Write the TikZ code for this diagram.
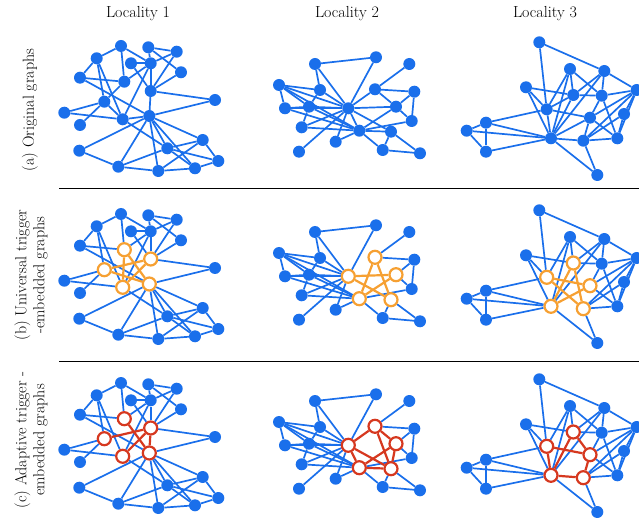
\documentclass[tikz,border=0pt]{standalone}
\usepackage{amsmath}
\usetikzlibrary{positioning}

\definecolor{nodeblue}{RGB}{26,111,235}
\definecolor{trigorange}{RGB}{246,160,50}
\definecolor{trigred}{RGB}{214,56,31}

\pgfdeclarelayer{background}
\pgfdeclarelayer{mid}
\pgfsetlayers{background,mid,main}

\tikzset{
  vtx/.style={circle, fill=nodeblue, inner sep=0pt, minimum size=12pt},
  trig/.style={vtx},
  link/.style={draw=nodeblue, line width=1.7pt},
  tlink/.style={link},
  orangetrig/.style={trig/.style={circle, draw=trigorange, fill=white, line width=2.2pt, inner sep=0pt, minimum size=13pt},
    tlink/.style={draw=trigorange, line width=2.2pt}},
  redtrig/.style={trig/.style={circle, draw=trigred, fill=white, line width=2.2pt, inner sep=0pt, minimum size=13pt},
    tlink/.style={draw=trigred, line width=2.2pt}},
  lbl/.style={font=\fontsize{16}{18}\selectfont, align=center},
}

% locality 1, #1 = edges between trigger nodes
\newcommand\locone[1]{%
  \node[vtx] (A) at (121,46) {};
  \node[vtx] (B) at (148.3,47.3) {};
  \node[vtx] (C) at (176.7,51.7) {};
  \node[vtx] (D) at (96.7,58.3) {};
  \node[vtx] (E) at (131,63.3) {};
  \node[vtx] (F) at (150.7,63.3) {};
  \node[vtx] (G) at (181,72.3) {};
  \node[vtx] (H) at (80,77.7) {};
  \node[trig] (I) at (124.3,81.7) {};
  \node[trig] (J) at (150.7,91) {};
  \node[vtx] (K) at (215,100) {};
  \node[trig] (L) at (104.3,101.7) {};
  \node[vtx] (M) at (64.3,112.7) {};
  \node[trig] (N) at (149.3,116) {};
  \node[trig] (O) at (122.7,119.3) {};
  \node[vtx] (P) at (80,125) {};
  \node[vtx] (Q) at (202.7,140) {};
  \node[vtx] (R) at (167.3,148.3) {};
  \node[vtx] (S) at (79.3,150.7) {};
  \node[vtx] (T) at (218.3,161) {};
  \node[vtx] (U) at (118.3,166.7) {};
  \node[vtx] (V) at (158.3,171) {};
  \node[vtx] (W) at (195,168.3) {};
  \begin{pgfonlayer}{background}
    \foreach \u/\v in {A/D, A/F, A/I, B/C, B/F, B/G, C/F, C/J, E/F, E/J, D/H, D/L, D/O,
        H/I, H/N, I/F, F/J, F/O, G/J, J/K, N/K, L/M, L/P, M/O, S/N, N/U, N/V, N/R,
        N/W, N/Q, O/R, S/U, U/V, U/R, V/W, V/Q, R/Q, R/T, Q/T, W/T, R/W}
      \draw[link] (\u) -- (\v);
  \end{pgfonlayer}
  \begin{pgfonlayer}{mid}
    \foreach \u/\v in {#1} \draw[tlink] (\u) -- (\v);
  \end{pgfonlayer}
}

% locality 2
\newcommand\loctwo[1]{%
  \node[vtx] (A) at (315,64) {};
  \node[vtx] (B) at (376,57.3) {};
  \node[vtx] (C) at (409.3,64) {};
  \node[vtx] (D) at (279,85) {};
  \node[vtx] (E) at (320,90) {};
  \node[trig] (F) at (375,89.3) {};
  \node[vtx] (G) at (414.3,91.7) {};
  \node[vtx] (H) at (285,108.3) {};
  \node[vtx] (I) at (309,106.7) {};
  \node[trig] (J) at (348.3,108.3) {};
  \node[trig] (K) at (396,106.7) {};
  \node[vtx] (L) at (411.7,121) {};
  \node[vtx] (M) at (301.7,127.3) {};
  \node[trig] (N) at (359.3,130.7) {};
  \node[trig] (O) at (391,131.7) {};
  \node[vtx] (P) at (335.7,141.7) {};
  \node[vtx] (Q) at (299,151.7) {};
  \node[vtx] (R) at (382.7,150) {};
  \node[vtx] (S) at (420,153.3) {};
  \begin{pgfonlayer}{background}
    \foreach \u/\v in {A/B, A/E, A/J, B/J, C/F, D/E, D/H, D/I, D/J, D/N, E/I, E/J, F/G,
        G/K, G/L, H/I, H/J, H/N, I/M, I/J, I/N, M/J, M/N, J/Q, J/P, K/L, L/N, N/P,
        N/R, O/R, O/S, R/S}
      \draw[link] (\u) -- (\v);
  \end{pgfonlayer}
  \begin{pgfonlayer}{mid}
    \foreach \u/\v in {#1} \draw[tlink] (\u) -- (\v);
  \end{pgfonlayer}
}

% locality 3
\newcommand\locthree[1]{%
  \node[vtx] (A) at (539.3,42.3) {};
  \node[vtx] (B) at (570,69) {};
  \node[vtx] (C) at (604.3,71) {};
  \node[vtx] (D) at (526,87.3) {};
  \node[vtx] (E) at (636.7,90) {};
  \node[trig] (F) at (573.3,95) {};
  \node[vtx] (G) at (601.7,95.7) {};
  \node[trig] (H) at (546.7,109.3) {};
  \node[vtx] (I) at (624,114) {};
  \node[trig] (J) at (590,117.7) {};
  \node[vtx] (K) at (486,122.7) {};
  \node[vtx] (L) at (466.7,130.7) {};
  \node[trig] (M) at (551,138.3) {};
  \node[trig] (N) at (583.3,140.7) {};
  \node[vtx] (O) at (617.3,138.3) {};
  \node[vtx] (P) at (486,151.7) {};
  \node[vtx] (Q) at (597.3,175) {};
  \begin{pgfonlayer}{background}
    \foreach \u/\v in {A/C, A/H, C/E, B/F, B/G, B/H, B/M, C/G, C/F, C/M, D/F, D/H, D/M,
        E/G, E/J, E/N, E/O, E/I, G/F, G/J, G/O, I/N, I/O, J/O, H/K, K/L, K/P, K/M,
        L/P, L/M, P/M, M/Q, N/O, N/Q}
      \draw[link] (\u) -- (\v);
  \end{pgfonlayer}
  \begin{pgfonlayer}{mid}
    \foreach \u/\v in {#1} \draw[tlink] (\u) -- (\v);
  \end{pgfonlayer}
}

\begin{document}
\begin{tikzpicture}[x=1pt, y=-1pt]
  \useasboundingbox (0,0) rectangle (639,518);

  % column and row titles
  \node[lbl] (loc1) at (138,14) {Locality 1};
  \node[lbl] (loc2) at (347,14) {Locality 2};
  \node[lbl] (loc3) at (545,14) {Locality 3};
  \node[lbl, rotate=90] (rowa) at (30,110) {(a) Original graphs};
  \node[lbl, rotate=90] (rowb) at (31,275) {(b) Universal trigger\\-embedded graphs};
  \node[lbl, rotate=90] (rowc) at (31,440) {(c) Adaptive trigger -\\embedded graphs};

  \draw[line width=1pt] (59,189) -- (639,189);
  \draw[line width=1pt] (59,361) -- (639,361);

  % (a) original graphs
  \begin{scope}[name prefix=a1-]
    \locone{I/L, L/O, O/N, J/N}
  \end{scope}
  \begin{scope}[name prefix=a2-]
    \loctwo{F/J, F/K, J/K, J/N, J/O, K/N, N/O}
  \end{scope}
  \begin{scope}[name prefix=a3-]
    \locthree{F/H, H/J, H/M, J/N, J/M, M/N, F/M}
  \end{scope}

  % (b) universal trigger
  \begin{scope}[shift={(0,168)}, orangetrig, name prefix=b1-]
    \locone{I/N, N/L, L/J, J/O, O/I}
  \end{scope}
  \begin{scope}[shift={(0,168)}, orangetrig, name prefix=b2-]
    \loctwo{F/O, O/J, J/K, K/N, N/F}
  \end{scope}
  \begin{scope}[shift={(0,168)}, orangetrig, name prefix=b3-]
    \locthree{F/N, N/H, H/J, J/M, M/F}
  \end{scope}

  % (c) adaptive trigger
  \begin{scope}[shift={(0,337)}, redtrig, name prefix=c1-]
    \locone{I/N, L/J, J/O, J/N}
  \end{scope}
  \begin{scope}[shift={(0,337)}, redtrig, name prefix=c2-]
    \loctwo{J/F, F/K, K/O, O/N, N/J, F/O, N/K, J/O}
  \end{scope}
  \begin{scope}[shift={(0,337)}, redtrig, name prefix=c3-]
    \locthree{H/M, F/M, F/J, H/J, J/N, M/N}
  \end{scope}
\end{tikzpicture}
\end{document}
